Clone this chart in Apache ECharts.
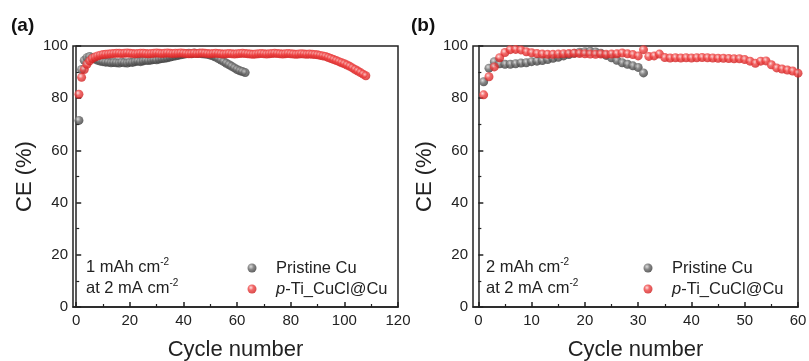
<!DOCTYPE html>
<html>
<head>
<meta charset="utf-8">
<script src="https://cdn.jsdelivr.net/npm/echarts@6.0.0/dist/echarts.min.js"></script>
<style>
  html, body { margin: 0; padding: 0; background: #fff; }
  #chart { width: 809px; height: 361px; }
</style>
</head>
<body>
<div id="chart"></div>
<script>
// CE (%) per cycle, cycle numbers start at 1
var pristineA = [
  71.5, 91, 94.5, 95.5, 96, 95.5, 95, 94.5, 94.2, 94,
  93.8, 93.8, 93.6, 93.7, 93.6, 93.5, 93.8, 93.6, 93.5, 93.8,
  93.7, 94, 94.2, 94, 94.3, 94.5, 94.4, 94.6, 94.8, 94.7,
  95, 95.2, 95.3, 95.5, 95.8, 96, 96.2, 96.4, 96.6, 96.8,
  97, 97.2, 97, 97.3, 97.1, 97.2, 97, 96.9, 96.8, 96.5,
  96.2, 95.8, 95.2, 94.6, 94, 93.4, 92.8, 92.2, 91.6, 91,
  90.5, 90.2, 89.8
];
var tiA = [
  81.5, 88, 91, 93, 94.3, 95.2, 95.8, 96.2, 96.5, 96.7,
  96.8, 96.9, 97, 97.1, 97.2, 97.2, 97.1, 97.2, 97.3, 97.2,
  97.1, 97, 97.1, 97.2, 97.2, 97.1, 97, 97.1, 97.2, 97.3,
  97.2, 97.1, 97.2, 97.3, 97.2, 97.1, 97.2, 97.2, 97.3, 97.2,
  97.1, 97, 97.1, 97.2, 97.1, 97.2, 97.3, 97.2, 97.1, 97,
  97.1, 97.2, 97.1, 97, 96.9, 97, 97.1, 97, 96.9, 97,
  97.1, 97.2, 97.1, 97, 96.9, 96.8, 96.9, 97, 97.1, 97,
  96.9, 97, 97.1, 97.2, 97.1, 97, 96.9, 97, 97.1, 97,
  96.9, 96.8, 96.9, 97, 96.9, 96.8, 96.9, 96.8, 96.7, 96.6,
  96.4, 96.2, 96, 95.6, 95.2, 94.8, 94.4, 94, 93.6, 93.2,
  92.7, 92.2, 91.6, 91, 90.4, 89.8, 89.2, 88.6
];
var pristineB = [
  86.3, 91.5, 94, 93.2, 93, 93, 93.2, 93.5, 93.6, 94,
  94.2, 94.4, 94.8, 95.3, 95.7, 96.2, 96.7, 97.2, 97.6, 97.8,
  98, 97.7, 97.2, 96.4, 95.5, 94.5, 93.6, 93, 92.4, 91.8,
  89.7
];
var tiB = [
  81.3, 88.2, 92, 95.5, 97.5, 98.6, 98.7, 98.5, 97.8, 97.4,
  97.1, 96.9, 96.8, 96.8, 96.9, 97, 97.1, 97.2, 97.1, 97,
  96.9, 96.8, 96.9, 96.8, 96.9, 97, 97.3, 97, 96.7, 96.2,
  98.6, 96, 96.2, 96.9, 95.6, 95.4, 95.5, 95.4, 95.5, 95.4,
  95.5, 95.6, 95.5, 95.4, 95.3, 95.3, 95.2, 95.1, 95.1, 94.8,
  94.2, 93.4, 94.2, 94.3, 92.8, 91.6, 91.2, 90.8, 90.4, 89.6
];
var xTicksA = [0, 20, 40, 60, 80, 100, 120];
var xMinorA = [10, 30, 50, 70, 90, 110];
var xTicksB = [0, 10, 20, 30, 40, 50, 60];
var xMinorB = [5, 15, 25, 35, 45, 55];

var FONT = 'Liberation Sans';
var INK = '#222';

var greyBall = new echarts.graphic.RadialGradient(0.38, 0.35, 0.7, [
  { offset: 0, color: '#d4d4d4' },
  { offset: 0.45, color: '#6a6a6a' },
  { offset: 1, color: '#333' }
]);
var redBall = new echarts.graphic.RadialGradient(0.38, 0.35, 0.7, [
  { offset: 0, color: '#fcd8d8' },
  { offset: 0.4, color: '#f04646' },
  { offset: 1, color: '#cc1a1a' }
]);

function dots(vals) {
  return vals.map(function (v, i) { return [i + 1, v]; });
}

var myChart = echarts.init(document.getElementById('chart'));

function mainX(gridIndex, min, max, ticks) {
  return {
    type: 'value', gridIndex: gridIndex, min: min, max: max, position: 'bottom',
    name: 'Cycle number', nameLocation: 'middle', nameGap: 32,
    nameTextStyle: { fontFamily: FONT, fontSize: 22, color: INK },
    axisLine: { onZero: false, lineStyle: { color: INK, width: 1.5 } },
    axisTick: { inside: true, length: 5, customValues: ticks, lineStyle: { color: INK, width: 1.5 } },
    axisLabel: { customValues: ticks, margin: 6, fontFamily: FONT, fontSize: 15, color: INK },
    splitLine: { show: false }
  };
}
// second axis only carries the short minor ticks
function minorX(gridIndex, min, max, ticks) {
  return {
    type: 'value', gridIndex: gridIndex, min: min, max: max, position: 'bottom',
    axisLine: { show: false, onZero: false },
    axisTick: { inside: true, length: 3, customValues: ticks, lineStyle: { color: INK, width: 1.2 } },
    axisLabel: { show: false },
    splitLine: { show: false }
  };
}
function yAx(gridIndex) {
  return {
    type: 'value', gridIndex: gridIndex, min: 0, max: 100, interval: 20,
    name: 'CE (%)', nameLocation: 'middle', nameGap: 37,
    nameTextStyle: { fontFamily: FONT, fontSize: 22, color: INK },
    axisLine: { show: true, lineStyle: { color: INK, width: 1.5 } },
    axisTick: { inside: true, length: 5, lineStyle: { color: INK, width: 1.5 } },
    minorTick: { show: true, splitNumber: 2, length: 3, lineStyle: { color: INK, width: 1.2 } },
    axisLabel: { margin: 5, fontFamily: FONT, fontSize: 15, color: INK },
    splitLine: { show: false }
  };
}
function dotSeries(name, vals, xi, yi, color) {
  return {
    name: name, type: 'scatter', xAxisIndex: xi, yAxisIndex: yi,
    data: dots(vals), symbol: 'circle', symbolSize: 9,
    itemStyle: { color: color },
    emphasis: { disabled: true }
  };
}
function legendAt(left) {
  return {
    orient: 'vertical', left: left, top: 259.5, padding: 0,
    itemWidth: 38, itemHeight: 9, itemGap: 4, icon: 'circle', selectedMode: false,
    data: ['Pristine Cu', 'p-Ti_CuCl@Cu'],
    formatter: function (name) {
      return name === 'p-Ti_CuCl@Cu' ? '{it|p}-Ti_CuCl@Cu' : name;
    },
    textStyle: {
      fontFamily: FONT, fontSize: 16.5, lineHeight: 17, color: INK,
      rich: { it: { fontFamily: FONT, fontSize: 16.5, lineHeight: 17, fontStyle: 'italic', color: INK } }
    }
  };
}
function note(left, text) {
  return {
    type: 'text', left: left, top: 257,
    style: {
      text: text, fontFamily: FONT, fontSize: 16.5, lineHeight: 21, fill: INK,
      rich: { sup: { fontFamily: FONT, fontSize: 10, lineHeight: 12, verticalAlign: 'top', fill: INK } }
    }
  };
}

var option = {
  animation: false,
  textStyle: { fontFamily: FONT },
  title: [
    { text: '(a)', left: 11, top: 16, padding: 0, textStyle: { fontFamily: FONT, fontSize: 19, fontWeight: 'bold', color: '#111' } },
    { text: '(b)', left: 411, top: 16, padding: 0, textStyle: { fontFamily: FONT, fontSize: 19, fontWeight: 'bold', color: '#111' } }
  ],
  grid: [
    { left: 73, top: 46, width: 325, height: 261, outerBoundsMode: 'none', show: true, borderColor: INK, borderWidth: 1.5, backgroundColor: 'transparent' },
    { left: 473, top: 46, width: 325, height: 261, outerBoundsMode: 'none', show: true, borderColor: INK, borderWidth: 1.5, backgroundColor: 'transparent' }
  ],
  xAxis: [
    mainX(0, -1.2, 120, xTicksA),
    minorX(0, -1.2, 120, xMinorA),
    mainX(1, -1, 60, xTicksB),
    minorX(1, -1, 60, xMinorB)
  ],
  yAxis: [yAx(0), yAx(1)],
  legend: [legendAt(247.5), legendAt(643.5)],
  graphic: [
    note(86, '1 mAh cm{sup|-2}\nat 2 mA cm{sup|-2}'),
    note(486, '2 mAh cm{sup|-2}\nat 2 mA cm{sup|-2}')
  ],
  series: [
    dotSeries('Pristine Cu', pristineA, 0, 0, greyBall),
    dotSeries('p-Ti_CuCl@Cu', tiA, 0, 0, redBall),
    dotSeries('Pristine Cu', pristineB, 2, 1, greyBall),
    dotSeries('p-Ti_CuCl@Cu', tiB, 2, 1, redBall)
  ]
};

myChart.setOption(option);
</script>
</body>
</html>
